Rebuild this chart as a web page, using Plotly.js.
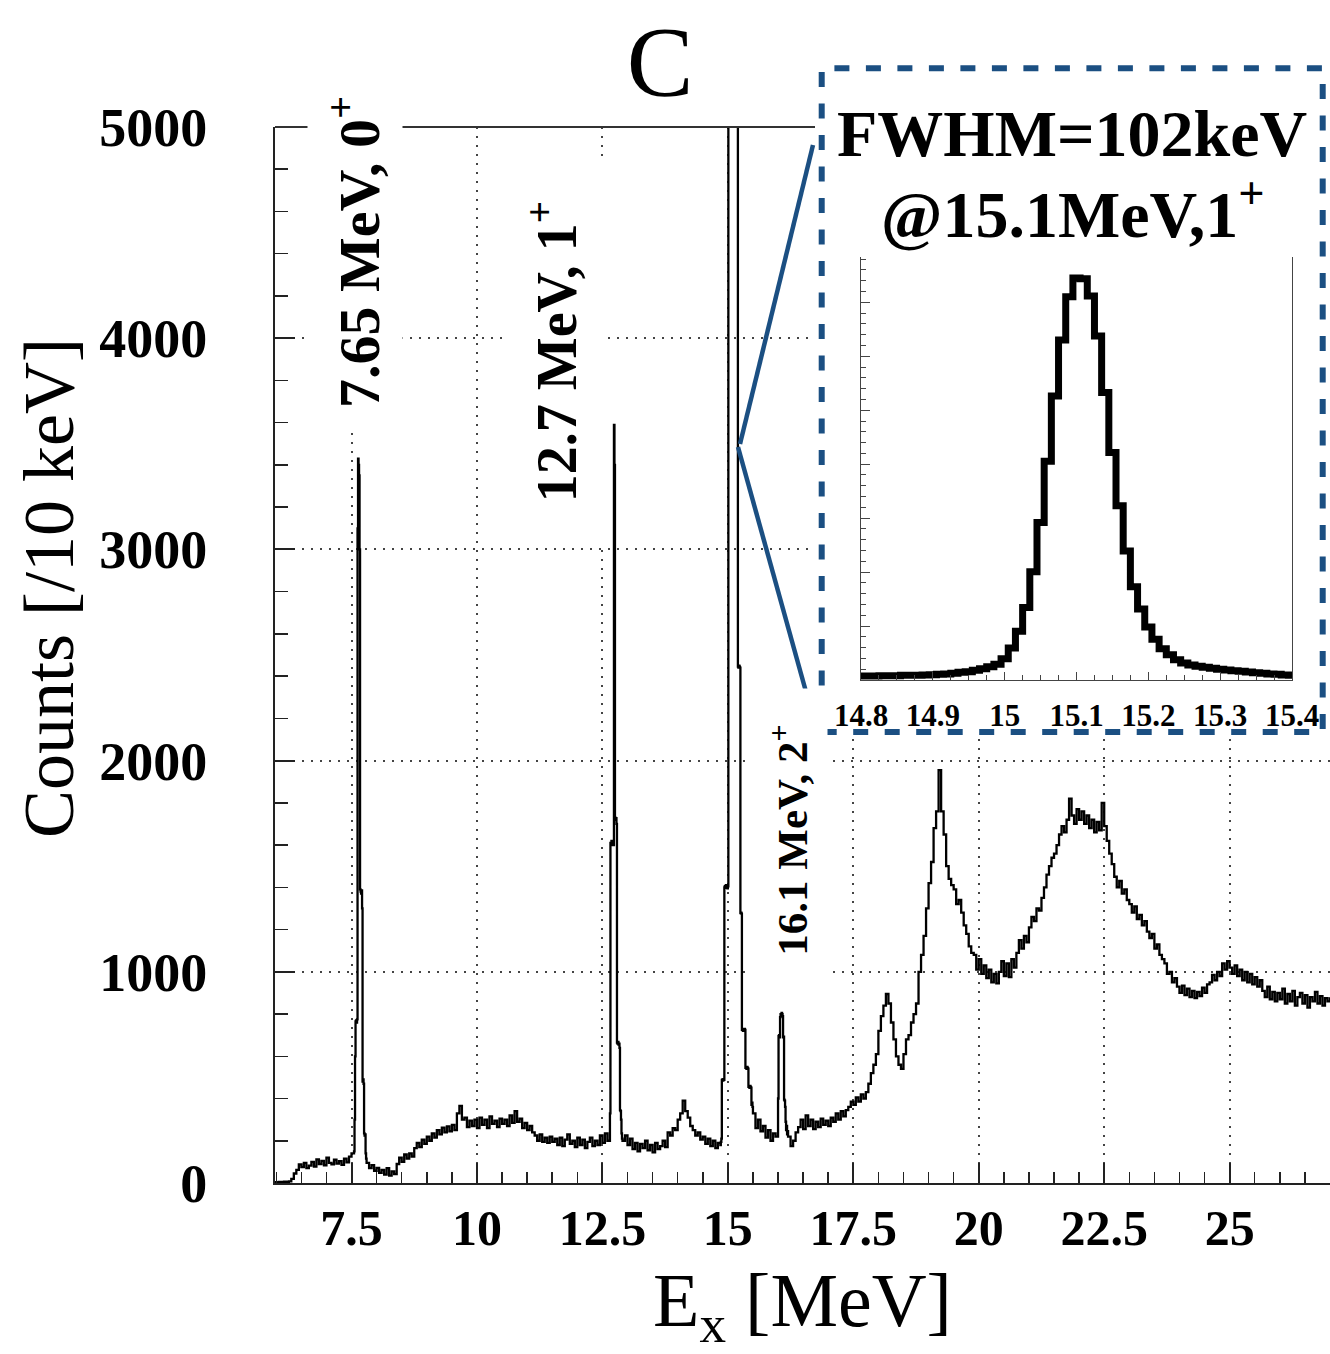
<!DOCTYPE html>
<html><head><meta charset="utf-8">
<script src="https://cdn.plot.ly/plotly-3.0.1.min.js"></script>
<style>html,body{margin:0;padding:0;background:#fff}</style>
</head><body>
<div id="chart" style="width:1330px;height:1354px"></div>
<script>
// ---------------- DATA ----------------
// Main spectrum: each segment = first bin left edge [MeV], bin width [MeV], counts per bin
const cont1Start = 5.95, cont1Bin = 0.05;
const cont1Counts = [4,3,5,4,6,5,8,20,45,62,88,75,95,70,82,100,78,112,90,105,84,120,95,88,110,92,104,86,115,98,125,140];

const peak765Start = 7.55, peak765Bin = 0.01;
const peak765Counts = [150,300,600,765,770,760,775,3100,3430,3400,3350,3000,1390,1380,1370,1385,1300,480,490,470,235,225,230,140,115];

const cont2Start = 7.80, cont2Bin = 0.05;
const cont2Counts = [95,70,85,58,72,48, 62,40,70,35,55,42, 90,120,100,135,115,140,125,
  165,190,170,205,185,220,200, 235,215,250,230,262, 240,268,245,275,250, 330,365,300,
  310,265,295,270,300, 260,310,275,300,260,315,280,295,265,305,280, 300,270,320,285,340,290,305,
  260,285,250,270,240, 225,200,230,195,215,190,220,195,
  210,180,215,175,205,230,185,200,170,215,180,205,165,195,215,175,200,180, 225,190,235,200];

const peak127Start = 12.65, peak127Bin = 0.01;
const peak127Counts = [330,1610,1600,1620,1610,1605,1615,1600,3590,3400,1730,1720,1728,1700,665,660,668,655,660,640,345,340,300,235,210];

const cont3Start = 12.90, cont3Bin = 0.05;
const cont3Counts = [200,225,180,210,160,190,150,185,165,200,155,180,145,190,160,175,200,170,
  240,225,260,250,300,330,390,340,310,270,250,225,240,205,220,185,210,175,200,165,190];

const peak151Start = 14.85, peak151Bin = 0.01;
const peak151Counts = [180,195,210, 488,490,485,492,488, 1400,1405,1398,1410,1400,1403,1395,1405,
  5600,7000,9500,13000,17000,22000,29000,35000,39000,40000,39000,35000,28000,21000,15000,11000,8000,6500,5500,
  2445,2440,2450,2445,2440, 1278,1280,1275, 725,730,720,728,722,730,725,
  545,548,540,550,545,542, 455,458,450,460,455,452, 370,380,360];

const cont4Start = 15.50, cont4Bin = 0.05;
const cont4Counts = [330,260,300,245,270,215,250,200,235,220];

const peak161Start = 16.00, peak161Bin = 0.01;
const peak161Counts = [400,695,700,690,785,800,795,805,800,790,690,693,395,390,360,290,250,270,230,245];

const cont5Start = 16.20, cont5Bin = 0.05;
const cont5Counts = [220,175,200,240,265,
  300,255,320,270,300,255,290,265,305,275,295,270,310,290,330,300,340,315,345,
  360,385,370,405,385,420,400,430, 470,520,560,610, 720,790, 840,895,850, 760,680,600, 560,540,
  610,680,700,760,800,850, 1000,1080,1170, 1300,1420,1520, 1680,1760, 1955, 1760,1650,
  1500,1440,1410, 1390,1320,1340, 1280,1220,1180,1120,1090, 1080,1010,1060,990,1030,970,
  1010,950,990,945,1000, 1050,980,1040,975,1060,1020, 1090,1150,1110,1170,1140,
  1210,1260,1240,1300,1290,1350, 1400,1460,1500,1540,1560,1600, 1650,1690,1660,1720,1820,
  1740,1700,1770,1720,1760,1700, 1740,1680,1720,1660,1710,1670,1800,1690, 1620,1560,1510,
  1450,1400,1430,1370,1390,1340, 1320,1280,1310,1250,1270,1220,1240, 1190,1160,1180,1110,1130,1080,1060,
  1040,990,1000,950,970, 930,900,935,890,920,880,910,875,905,885,925,900,940,
  950,985,960,1000, 980,1040,1010,1050, 1020,990,1030,980,1010,960,1000,950,990,940,975,930,960,
  910,880,930,870,905,
  860,900,870,920,850,895,860,910,840,880,900,850,890,830,880,860,905,850,885,840,875,860,880];

// Inset: 15.1 MeV peak, bin centres from 14.80 MeV, 10 keV bins
const insetStart = 14.80, insetBin = 0.01;
const insetCounts = [120,120,120,130,130,130,140,140,140,150,
  160,170,180,200,230,250,290,340,400,470,
  640,960,1460,2180,3250,4730,6570,8530,10210,11510,
  12070,12050,11530,10330,8630,6830,5230,3870,2800,2130,
  1590,1220,940,760,610,510,450,410,380,350,
  320,300,280,260,240,220,200,180,170,150,140];

const xTickLabels = ['7.5','10','12.5','15','17.5','20','22.5','25'];
const insetTickLabels = ['14.8','14.9','15','15.1','15.2','15.3','15.4'];

// ---------------- BUILD ----------------
function seg(start, bin, counts) {
  return {x: counts.map((_, i) => +(start + i * bin).toFixed(3)), y: counts.slice()};
}
const segs = [
  seg(cont1Start, cont1Bin, cont1Counts),
  seg(peak765Start, peak765Bin, peak765Counts),
  seg(cont2Start, cont2Bin, cont2Counts),
  seg(peak127Start, peak127Bin, peak127Counts),
  seg(cont3Start, cont3Bin, cont3Counts),
  seg(peak151Start, peak151Bin, peak151Counts),
  seg(cont4Start, cont4Bin, cont4Counts),
  seg(peak161Start, peak161Bin, peak161Counts),
  seg(cont5Start, cont5Bin, cont5Counts)
];
const specX = [].concat(...segs.map(s => s.x));
const specY = [].concat(...segs.map(s => s.y));
const inset = seg(insetStart, insetBin, insetCounts);

const FONT = 'Liberation Serif, Times New Roman, serif';
const W = 1330, H = 1354, ML = 275, MR = 0, MT = 127, MB = 171;
const PW = W - ML - MR, PH = H - MT - MB;
const px = v => (v - ML) / PW;
const py = v => (H - MB - v) / PH;
const BLUE = '#1b4f82';

const traces = [
  {x: specX, y: specY, type: 'scatter', mode: 'lines', line: {color: '#000', width: 2.3, shape: 'hv'},
   xaxis: 'x', yaxis: 'y', hoverinfo: 'skip', showlegend: false},
  {x: [], y: [], type: 'scatter', mode: 'lines', xaxis: 'x2', yaxis: 'y2', showlegend: false, hoverinfo: 'skip'},
  {x: inset.x, y: inset.y, type: 'scatter', mode: 'lines', line: {color: '#000', width: 7, shape: 'hvh'},
   xaxis: 'x3', yaxis: 'y3', hoverinfo: 'skip', showlegend: false}
];

const layout = {
  width: W, height: H, autosize: false,
  margin: {l: ML, r: MR, t: MT, b: MB, pad: 0},
  paper_bgcolor: '#fff', plot_bgcolor: '#fff',
  showlegend: false,
  font: {family: FONT, color: '#000'},
  title: {text: 'C', font: {family: FONT, size: 100, color: '#000'},
          xref: 'container', x: 660 / W, xanchor: 'center', yref: 'container', y: 1 - 60 / H, yanchor: 'middle'},
  xaxis: {
    domain: [0, 1], range: [5.975, 27.0], anchor: 'y',
    tickmode: 'array', tickvals: xTickLabels.map(Number), ticktext: xTickLabels,
    ticks: 'inside', ticklen: 20, tickwidth: 2, tickcolor: '#222',
    minor: {dtick: 0.5, tick0: 0, ticks: 'inside', ticklen: 11, tickwidth: 1.5, tickcolor: '#222', showgrid: false},
    showline: true, linecolor: '#222', linewidth: 2, mirror: false,
    showgrid: true, gridcolor: '#444', gridwidth: 2, griddash: '2px,7px', zeroline: false,
    tickfont: {family: FONT, size: 50, weight: 'bold', color: '#000'}, ticklabelstandoff: 0,
    title: {text: 'E<sub>x</sub> [MeV]', font: {family: FONT, size: 76, color: '#000'}, standoff: 58}
  },
  yaxis: {
    domain: [0, 1], range: [0, 5000], anchor: 'x',
    tickmode: 'linear', tick0: 0, dtick: 1000,
    ticks: 'inside', ticklen: 20, tickwidth: 2, tickcolor: '#222',
    minor: {dtick: 200, ticks: 'inside', ticklen: 13, tickwidth: 1.5, tickcolor: '#222', showgrid: false},
    showline: true, linecolor: '#222', linewidth: 2, mirror: false,
    showgrid: true, gridcolor: '#444', gridwidth: 2, griddash: '2px,7px', zeroline: false,
    tickfont: {family: FONT, size: 54, weight: 'bold', color: '#000'}, ticklabelstandoff: 55
  },
  // blank white panel behind the inset (hides grid and frame)
  xaxis2: {domain: [px(815), 1], anchor: 'y2', visible: false, range: [0, 1], fixedrange: true},
  yaxis2: {domain: [py(738), 1], anchor: 'x2', visible: false, range: [0, 1], fixedrange: true},
  // inset axes
  xaxis3: {
    domain: [px(861), px(1292)], anchor: 'y3', range: [14.8, 15.4],
    tickmode: 'array', tickvals: insetTickLabels.map(Number), ticktext: insetTickLabels,
    ticks: 'inside', ticklen: 8, tickwidth: 1, tickcolor: '#444',
    minor: {dtick: 0.025, tick0: 14.8, ticks: 'inside', ticklen: 5, tickwidth: 1, tickcolor: '#444', showgrid: false},
    showline: true, linecolor: '#444', linewidth: 1, mirror: false, showgrid: false, zeroline: false,
    tickfont: {family: FONT, size: 31, weight: 'bold', color: '#000'}, ticklabelstandoff: 8
  },
  yaxis3: {
    domain: [py(680), py(257)], anchor: 'x3', range: [0, 12700],
    tickmode: 'linear', tick0: 0, dtick: 1620, showticklabels: false,
    ticks: 'inside', ticklen: 9, tickwidth: 1, tickcolor: '#444',
    minor: {dtick: 324, ticks: 'inside', ticklen: 5, tickwidth: 1, tickcolor: '#444', showgrid: false},
    showline: true, linecolor: '#444', linewidth: 1, mirror: true, showgrid: false, zeroline: false
  },
  shapes: [
    // top frame line of the main plot (stops at the inset panel)
    {type: 'line', xref: 'paper', yref: 'paper', x0: 0, x1: px(815), y0: 1, y1: 1,
     line: {color: '#333', width: 2}, layer: 'above'},
    // dashed inset frame
    {type: 'rect', xref: 'paper', yref: 'paper', x0: px(821.7), x1: px(1322.7), y0: py(732), y1: py(68.3),
     line: {color: BLUE, width: 6, dash: '15px,16.5px'}, fillcolor: 'rgba(0,0,0,0)', layer: 'above'},
    // zoom connector lines
    {type: 'line', xref: 'paper', yref: 'paper', x0: px(740), y0: py(444), x1: px(813), y1: py(145),
     line: {color: BLUE, width: 4.5}, layer: 'above'},
    {type: 'line', xref: 'paper', yref: 'paper', x0: px(738), y0: py(447), x1: px(818), y1: py(735),
     line: {color: BLUE, width: 4.5}, layer: 'above'}
  ],
  annotations: [
    {text: 'Counts [/10 keV]', textangle: -90, xref: 'paper', yref: 'paper', x: px(49), y: py(588),
     xanchor: 'center', yanchor: 'middle', showarrow: false, font: {family: FONT, size: 72, color: '#000'}},
    {text: '7.65 MeV, 0<sup>+</sup>', textangle: -90, xref: 'paper', yref: 'paper', x: px(355), y: py(252),
     xanchor: 'center', yanchor: 'middle', showarrow: false, bgcolor: '#fff', width: 350, height: 92,
     font: {family: FONT, size: 58, weight: 'bold', color: '#000'}},
    {text: '12.7 MeV, 1<sup>+</sup>', textangle: -90, xref: 'paper', yref: 'paper', x: px(553), y: py(352),
     xanchor: 'center', yanchor: 'middle', showarrow: false, bgcolor: '#fff', width: 385, height: 98,
     font: {family: FONT, size: 56, weight: 'bold', color: '#000'}},
    {text: '16.1 MeV, 2<sup>+</sup>', textangle: -90, xref: 'paper', yref: 'paper', x: px(789), y: py(840),
     xanchor: 'center', yanchor: 'middle', showarrow: false, bgcolor: '#fff', width: 300, height: 74,
     font: {family: FONT, size: 43, weight: 'bold', color: '#000'}},
    {text: 'FWHM=102keV', xref: 'paper', yref: 'paper', x: px(1072), y: py(134),
     xanchor: 'center', yanchor: 'middle', showarrow: false,
     font: {family: FONT, size: 66, weight: 'bold', color: '#000'}},
    {text: '@15.1MeV,1<sup>+</sup>', xref: 'paper', yref: 'paper', x: px(1072), y: py(209),
     xanchor: 'center', yanchor: 'middle', showarrow: false,
     font: {family: FONT, size: 66, weight: 'bold', color: '#000'}}
  ]
};

Plotly.newPlot('chart', traces, layout, {displayModeBar: false, staticPlot: true});
</script>
</body></html>
